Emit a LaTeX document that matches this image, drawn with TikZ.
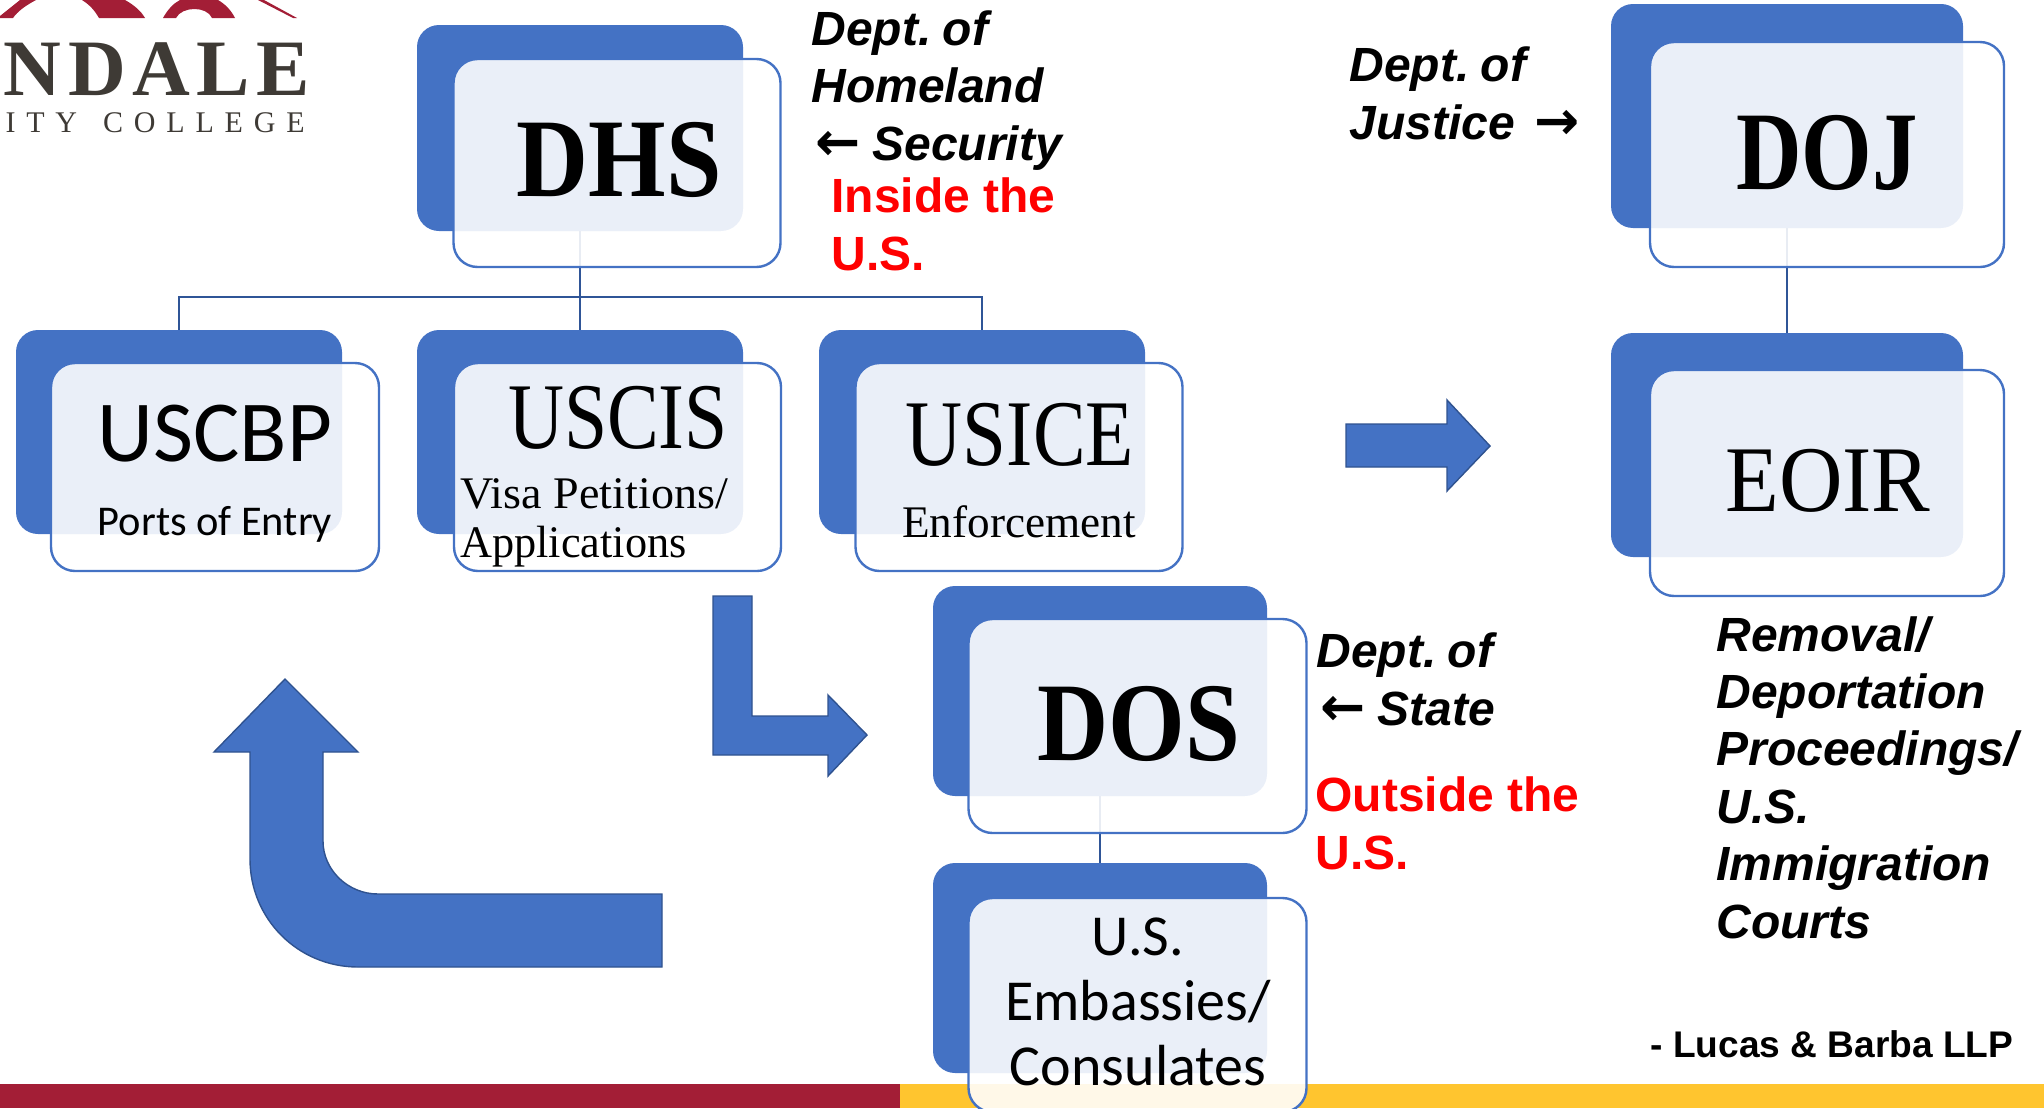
\documentclass[tikz,border=0pt]{standalone}
\usepackage{fontspec}
\usetikzlibrary{calc}
\setmainfont{Liberation Sans}
\newfontfamily\serifface{Liberation Serif}
\newfontfamily\bodyface{Carlito}
\newfontfamily\arrowface{DejaVu Sans}
\newfontfamily\logoface[LetterSpace=8]{Liberation Serif}
\newfontfamily\logosmall[LetterSpace=36]{Liberation Serif}
\definecolor{boxblue}{RGB}{68,114,196}
\definecolor{linkblue}{RGB}{47,85,151}
\definecolor{arrowedge}{RGB}{47,82,143}
\definecolor{collegered}{RGB}{163,30,54}
\definecolor{collegegold}{RGB}{255,197,47}
\definecolor{logogrey}{RGB}{62,58,53}
\newcommand{\deptof}{Dept.\hspace{.24em}of}
\newcommand{\arrowglyph}[1]{{\arrowface\upshape\bfseries\fontsize{27}{28.7}\selectfont #1}}
\newcommand{\larrow}[1]{\hspace*{2pt}\makebox[28.5pt][l]{\arrowglyph{←}}#1}
\tikzset{
  backbox/.style 2 args={rectangle, rounded corners=11pt, fill=boxblue, inner sep=0pt, minimum width=#1, minimum height=#2},
  frontbox/.style 2 args={rectangle, rounded corners=12pt, draw=boxblue, line width=1.2pt, fill=white, fill opacity=0.89, inner sep=0pt, minimum width=#1, minimum height=#2},
  link/.style={draw=linkblue, line width=1.2pt},
  blockarrow/.style={fill=boxblue, draw=arrowedge, line width=0.7pt},
  big/.style={font=\serifface\bfseries\fontsize{56}{60}\selectfont, anchor=base, inner sep=0pt},
  mid/.style={font=\serifface\fontsize{47}{50}\selectfont, anchor=base, inner sep=0pt},
  sub/.style={font=\serifface\fontsize{22.6}{25}\selectfont, anchor=base, inner sep=0pt},
  note/.style={font=\bfseries\itshape\fontsize{24}{28.7}\selectfont, align=left, anchor=base west, inner sep=0pt},
  warn/.style={font=\bfseries\fontsize{24}{28.7}\selectfont, text=red, align=left, anchor=base west, inner sep=0pt},
}

\begin{document}
\begin{tikzpicture}[x=0.5pt, y=-0.5pt]

    \useasboundingbox (0,0) rectangle (2044,1108);
    \clip (0,0) rectangle (2044,1108);

    % bottom band
    \fill[collegered] (0,1084) rectangle (900,1108);
    \fill[collegegold] (900,1084) rectangle (2044,1108);

    % logo
    \fill[collegered] (0,16) -- (20,0) -- (36,0) .. controls (25,6) and (18,11) .. (13,18) -- (0,18) -- cycle;
    \fill[collegered] (82,0) -- (125,0) .. controls (134,5) and (141,11) .. (145,18) -- (99,18) .. controls (95,11) and (90,5) .. (82,0) -- cycle;
    \fill[collegered] (163,18) .. controls (168,9) and (174,3) .. (180,0) -- (218,0) .. controls (225,4) and (231,10) .. (235,18) -- (212,18) .. controls (207,6) and (182,6) .. (176,18) -- cycle;
    \fill[collegered] (258,0) -- (264,0) -- (297,18) -- (293,18) -- cycle;
    \node[font=\logoface\bfseries\fontsize{40}{42}\selectfont, text=logogrey, anchor=base east, inner sep=0pt] (logoname) at (310,95) {NDALE};
    \node[font=\logosmall\fontsize{15}{17}\selectfont, text=logogrey, anchor=base east, inner sep=0pt] (logosub) at (305,132) {ITY\hspace{13pt}COLLEGE};

    % back boxes
    \node[backbox={163pt}{103pt}] (dhsback) at (580,128) {};
    \node[backbox={163pt}{102pt}] (cbpback) at (179,432) {};
    \node[backbox={163pt}{102pt}] (cisback) at (580,432) {};
    \node[backbox={163pt}{102pt}] (iceback) at (982,432) {};
    \node[backbox={167pt}{105pt}] (dosback) at (1100,691) {};
    \node[backbox={167pt}{105pt}] (embback) at (1100,968) {};
    \node[backbox={176pt}{112pt}] (dojback) at (1787,116) {};
    \node[backbox={176pt}{112pt}] (eoirback) at (1787,445) {};

    % links
    \coordinate (dhsbus) at (580,297);
    \draw[link] (dhsback.south) -- (dhsbus);
    \draw[link] (dhsbus) -| (cbpback.north);
    \draw[link] (dhsbus) -- (cisback.north);
    \draw[link] (dhsbus) -| (iceback.north);
    \draw[link] (dosback.south) -- (embback.north);
    \draw[link] (dojback.south) -- (eoirback.north);

    % front boxes
    \node[frontbox={163.5pt}{104pt}] (dhsfront) at (617,163) {};
    \node[frontbox={164pt}{104pt}] (cbpfront) at (215,467) {};
    \node[frontbox={163.5pt}{104pt}] (cisfront) at (617.5,467) {};
    \node[frontbox={163.5pt}{104pt}] (icefront) at (1019,467) {};
    \node[frontbox={169pt}{107pt}] (dosfront) at (1137.5,726) {};
    \node[frontbox={169pt}{107pt}] (embfront) at (1137.5,1005) {};
    \node[frontbox={177pt}{112.5pt}] (dojfront) at (1827,154.5) {};
    \node[frontbox={177pt}{113pt}] (eoirfront) at (1827,483) {};

    % box texts
    \node[big] (dhstext) at (619,196) {\scalebox{.89}[1]{DHS}};
    \node[font=\bodyface\fontsize{43.5}{46}\selectfont, anchor=base, inner sep=0pt] (cbptext) at (215,461) {USCBP};
    \node[font=\bodyface\fontsize{21.2}{24}\selectfont, anchor=base, inner sep=0pt] (cbpsub) at (215,535) {Ports of Entry};
    \node[mid] (cistext) at (618,448) {\scalebox{.825}[1]{USCIS}};
    \node[sub, anchor=base west] (cissubtop) at (460,508) {\scalebox{1.02}[1]{Visa Petitions/}};
    \node[sub, anchor=base west] (cissubbot) at (460,557) {\scalebox{.98}[1]{Applications}};
    \node[mid] (icetext) at (1020,465) {\scalebox{.84}[1]{USICE}};
    \node[sub] (icesub) at (1019,537) {Enforcement};
    \node[big] (dostext) at (1139,760) {\scalebox{.88}[1]{DOS}};
    \node[font=\bodyface\fontsize{29}{32.5}\selectfont, align=center, anchor=base, inner sep=0pt] (embtext) at (1138,1085) {U.S.\\Embassies/\\Consulates};
    \node[big] (dojtext) at (1827,189) {\scalebox{.81}[1]{DOJ}};
    \node[mid] (eoirtext) at (1828,511) {\scalebox{.935}[1]{EOIR}};

    % side notes
    \node[note] (dhsnote) at (811,160) {\deptof\\Homeland\\\larrow{Security}};
    \node[warn] (dhswarn) at (831,270) {Inside the\\U.S.};
    \node[note] (dojnote) at (1349,139) {\deptof\\Justice\hspace{10pt}\arrowglyph{→}};
    \node[note] (dosnote) at (1316,725) {\deptof\\\larrow{State}};
    \node[warn] (doswarn) at (1315,869) {Outside the\\U.S.};
    \node[note] (eoirnote) at (1716,938) {Removal/\\Deportation\\Proceedings/\\U.S.\\Immigration\\Courts};
    \node[font=\bfseries\fontsize{18.55}{22}\selectfont, anchor=base west, inner sep=0pt] (credit) at (1650,1057) {- Lucas \& Barba LLP};

    % block arrows
    \draw[blockarrow] (1346,424) -- (1447,424) -- (1447,400) -- (1490,446) -- (1447,491) -- (1447,467) -- (1346,467) -- cycle;
    \draw[blockarrow] (713,596) -- (752,596) -- (752,716) -- (828,716) -- (828,695) -- (867,735) -- (828,776) -- (828,755) -- (713,755) -- cycle;
    \draw[blockarrow] (285,679) -- (358,752) -- (323,752) -- (323,841) .. controls (323,870) and (348,894) .. (378,894) -- (662,894) -- (662,967) -- (358,967) .. controls (298,967) and (250,919) .. (250,859) -- (250,752) -- (214,752) -- cycle;

\end{tikzpicture}
\end{document}
